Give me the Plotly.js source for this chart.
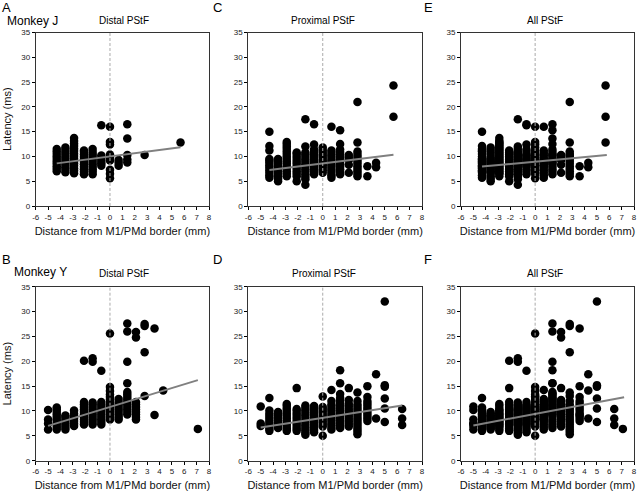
<!DOCTYPE html>
<html>
<head>
<meta charset="utf-8">
<script src="https://cdn.plot.ly/plotly-3.0.1.min.js"></script>
<style>html,body{margin:0;padding:0;background:#fff}#chart{width:638px;height:492px}</style>
</head>
<body>
<div id="chart"></div>
<script>
// ---------- Monkey J, distal PStF (panel A) ----------
const jDistalX = [-4.3, -3.6, -2.9, -2.1, -1.4, -0.7, 0, 0.7, 1.4, 2.8, 5.7];
const jDistalLat = [
  [7.0,7.5,8.0,8.5,9.0,9.5,10.0,10.5,11.0,11.5],
  [6.8,7.3,7.8,8.3,8.8,9.3,9.8,10.3,10.8,11.3,11.8],
  [6.6,7.1,7.6,8.1,8.6,9.1,9.6,10.1,10.6,11.1,11.6,12.1,12.6,13.1,13.7],
  [6.4,6.9,7.4,7.9,8.4,8.9,9.4,9.9,10.4,10.9,11.2],
  [6.4,6.9,7.4,7.9,8.4,8.9,9.4,9.9,10.4,10.9,11.5],
  [8.1,8.6,9.1,9.6,10.2,16.3],
  [5.6,6.5,7.3,9.2,9.8,10.4,12.4,12.9,16.0],
  [8.1,8.7,9.3],
  [8.8,9.4,10.3,13.6,16.5],
  [10.3],
  [12.8]
];
// ---------- Monkey J, proximal PStF (panel C) ----------
const jProxX = [-4.3, -3.6, -2.9, -2.1, -1.4, -0.7, 0, 0.7, 1.4, 2.1, 2.8, 3.6, 4.3, 5.7];
const jProxLat = [
  [5.7,6.2,6.7,7.2,7.7,8.2,8.7,9.2,9.5,11.2,12.1,15.0],
  [5.0,5.5,6.0,6.5,7.0,7.5,8.0,8.5,9.0,9.5],
  [6.0,6.5,7.0,7.5,8.0,8.5,9.0,9.5,10.0,10.5,11.0,11.5,12.0,12.5,12.9],
  [5.0,6.0,6.5,7.0,7.5,8.0,8.5,9.0,9.5,10.0,10.5,10.8],
  [4.3,5.4,5.9,6.4,6.9,7.4,7.9,8.4,8.9,9.4,9.9,10.4,10.8,12.0,17.5],
  [6.4,6.9,7.4,7.9,8.4,8.9,9.4,9.9,10.4,10.9,11.4,12.4,16.5],
  [6.7,7.2,7.7,8.2,8.7,9.2,9.7,10.2,10.7,11.2,11.8],
  [5.7,6.2,6.7,7.2,7.7,8.2,8.7,9.2,9.7,10.2,10.7,11.2,16.0],
  [6.4,6.9,7.4,7.9,8.4,8.9,9.4,9.9,10.4,10.9,11.4,12.5,15.3],
  [6.7,8.3,9.3,9.8,10.3],
  [6.0,6.5,7.0,7.5,8.0,8.5,9.0,9.5,10.0,10.5,11.0,12.8,21.0],
  [6.0,8.0],
  [7.8,8.7],
  [18.0,24.3]
];
// ---------- Monkey Y, distal PStF (panel B) ----------
const yDistalX = [-5.0, -4.3, -3.6, -2.9, -2.1, -1.4, -0.7, 0, 0.7, 1.4, 2.1, 2.8, 3.6, 4.3, 7.1];
const yDistalLat = [
  [6.3,7.5,8.3,10.2],
  [6.3,6.8,7.3,7.8,8.3,8.8,9.3,9.8,10.3,10.7],
  [6.3,6.8,7.3,7.8,8.3,8.8,9.1],
  [7.0,7.5,8.0,8.5,9.0,9.5,10.1],
  [7.3,7.8,8.3,8.8,9.3,9.8,10.3,10.8,11.3,11.8,20.1],
  [7.3,7.8,8.3,8.8,9.3,9.8,10.3,10.8,11.3,11.7,19.9,20.6],
  [7.3,7.8,8.3,8.8,9.3,9.8,10.3,10.8,11.3,11.8,18.1],
  [8.3,8.8,9.3,9.8,10.3,10.8,11.3,11.8,12.3,12.8,13.3,14.0,14.8,25.6],
  [8.3,8.8,9.3,9.8,10.3,10.8,11.3,11.8,12.4],
  [9.3,9.8,10.3,10.8,11.3,11.8,12.3,12.8,13.3,13.8,15.6,19.9,26.0,27.6],
  [8.3,8.8,9.3,9.8,10.3,10.8,11.3,11.8,24.8,25.9],
  [13.0,21.8,27.1,27.5],
  [9.2,26.6],
  [14.1],
  [6.4]
];
// ---------- Monkey Y, proximal PStF (panel D) ----------
const yProxX = [-5.0, -4.3, -3.6, -2.9, -2.1, -1.4, -0.7, 0, 0.7, 1.4, 2.1, 2.8, 3.6, 4.3, 5.0, 6.4];
const yProxLat = [
  [7.0,7.5,10.9],
  [6.0,6.5,7.0,7.5,8.0,8.5,9.0,9.5,10.1,12.6],
  [6.6,7.1,7.6,8.1,8.6,9.1,9.5,9.8],
  [6.0,6.5,7.0,7.5,8.0,8.5,9.0,9.5,10.0,10.5,11.0,11.4],
  [6.0,6.5,7.0,7.5,8.0,8.5,9.0,9.5,10.0,10.4,14.6],
  [5.2,5.6,6.1,6.6,7.1,7.6,8.1,8.6,9.1,9.6,10.1,10.6,11.1],
  [5.7,6.2,6.7,7.2,7.7,8.2,8.7,9.2,9.7,10.2,10.6,11.0],
  [5.0,6.9,7.4,7.9,8.4,8.9,9.4,9.9,10.4,10.8,12.9],
  [6.3,6.8,7.3,7.8,8.3,8.8,9.3,9.8,10.3,10.8,11.3,12.0,14.2],
  [6.6,7.1,7.6,8.1,8.6,9.1,9.6,10.1,10.6,11.1,11.6,12.1,12.6,13.4,15.6,18.2],
  [6.9,7.4,7.9,8.4,8.9,9.4,9.9,10.4,10.9,11.4,12.2,14.6],
  [5.3,5.8,6.3,6.8,7.3,7.8,8.3,8.8,9.3,9.8,10.3,10.8,11.3,12.0,13.7],
  [8.0,8.5,9.0,9.5,10.0,10.5,11.0,11.5,12.0,12.8,15.0],
  [8.5,17.4],
  [7.8,10.5,12.5,14.9,15.2,32.0],
  [7.2,8.5,10.4]
];
// ---------- regression lines ----------
const fitJDistalX = [-4.3, 5.7], fitJDistalY = [8.6, 11.85];
const fitJProxX = [-4.3, 5.7],   fitJProxY = [7.25, 10.35];
const fitJAllX = [-4.3, 5.8],    fitJAllY = [7.95, 10.3];
const fitYDistalX = [-5.0, 7.1], fitYDistalY = [7.0, 16.2];
const fitYProxX = [-5.0, 6.4],   fitYProxY = [6.7, 11.1];
const fitYAllX = [-5.0, 7.2],    fitYAllY = [7.1, 12.75];

const xTickVals = [-6,-5,-4,-3,-2,-1,0,1,2,3,4,5,6,7,8];
const xTickText = ['-6','-5','-4','-3','-2','-1','0','1','2','3','4','5','6','7','8'];
const yTickVals = [0,5,10,15,20,25,30,35];

function flatten(xs, lats) {
  const x = [], y = [];
  xs.forEach((xv, i) => lats[i].forEach(v => { x.push(xv); y.push(v); }));
  return {x, y};
}
function merge(a, b) { return {x: a.x.concat(b.x), y: a.y.concat(b.y)}; }

const jD = flatten(jDistalX, jDistalLat);
const jP = flatten(jProxX, jProxLat);
const yD = flatten(yDistalX, yDistalLat);
const yP = flatten(yProxX, yProxLat);
const jA = merge(jD, jP);
const yA = merge(yD, yP);

const panels = [
  {pts: jD, fx: fitJDistalX, fy: fitJDistalY, ax: ''},
  {pts: jP, fx: fitJProxX, fy: fitJProxY, ax: '2'},
  {pts: jA, fx: fitJAllX, fy: fitJAllY, ax: '3'},
  {pts: yD, fx: fitYDistalX, fy: fitYDistalY, ax: '4'},
  {pts: yP, fx: fitYProxX, fy: fitYProxY, ax: '5'},
  {pts: yA, fx: fitYAllX, fy: fitYAllY, ax: '6'}
];

const W = 638, H = 492;
const FONT = 'Arial, "Liberation Sans", Helvetica, sans-serif';
const xDom = [[35.7/W, 209/W], [248.3/W, 422/W], [461/W, 634/W]];
const yDomTop = [1-206/H, 1-32.5/H];
const yDomBot = [1-460.7/H, 1-286.7/H];

const data = [];
const layout = {
  width: W, height: H,
  margin: {l:0, r:0, t:0, b:0},
  paper_bgcolor: '#fff', plot_bgcolor: '#fff',
  showlegend: false,
  font: {family: FONT, color: '#000'},
  shapes: [], annotations: []
};

panels.forEach((p, i) => {
  const xa = 'x' + p.ax, ya = 'y' + p.ax;
  data.push({type: 'scatter', mode: 'markers', x: p.pts.x, y: p.pts.y, xaxis: xa, yaxis: ya,
    marker: {color: '#000', size: 8.5, line: {width: 0}}, hoverinfo: 'skip'});
  data.push({type: 'scatter', mode: 'lines', x: p.fx, y: p.fy, xaxis: xa, yaxis: ya,
    line: {color: '#808080', width: 2}, hoverinfo: 'skip'});
  const col = i % 3, row = Math.floor(i / 3);
  const xk = 'xaxis' + p.ax, yk = 'yaxis' + p.ax;
  layout[xk] = {
    domain: xDom[col], anchor: ya, range: [-6, 8], tickvals: xTickVals, ticktext: xTickText,
    ticks: 'outside', ticklen: 3, tickwidth: 1, tickcolor: '#000',
    tickfont: {size: 8, color: '#222'},
    showgrid: false, zeroline: false, showline: true, linecolor: '#333', linewidth: 1, mirror: true,
    title: {text: 'Distance from M1/PMd border (mm)', font: {size: 11, color: '#111'}, standoff: 6}
  };
  layout[yk] = {
    domain: row === 0 ? yDomTop : yDomBot, anchor: xa, range: [0, 35], tickvals: yTickVals,
    ticks: 'outside', ticklen: 3, tickwidth: 1, tickcolor: '#000',
    tickfont: {size: 8, color: '#222'},
    showgrid: false, zeroline: false, showline: true, linecolor: '#333', linewidth: 1, mirror: true,
    title: col === 0 ? {text: 'Latency (ms)', font: {size: 11, color: '#111'}, standoff: 7} : {text: ''}
  };
  layout.shapes.push({type: 'line', xref: xa, yref: ya, x0: 0, x1: 0, y0: 0, y1: 35,
    line: {color: '#aaaaaa', width: 1, dash: '3px,2px'}, layer: 'above'});
});

function ann(text, px, py, size, xanchor) {
  layout.annotations.push({text: text, x: px / W, y: 1 - py / H, xref: 'paper', yref: 'paper',
    xanchor: xanchor || 'center', yanchor: 'middle', showarrow: false,
    font: {size: size, color: '#000', family: FONT}});
}
ann('A', 0, 8, 13, 'left');
ann('C', 211, 8, 13, 'left');
ann('E', 422, 8, 13, 'left');
ann('B', 0, 259, 13, 'left');
ann('D', 211, 259, 13, 'left');
ann('F', 422, 259, 13, 'left');
ann('Monkey J', 5, 21, 12, 'left');
ann('Monkey Y', 12, 272, 12, 'left');
ann('Distal PStF', 124, 20, 10);
ann('Proximal PStF', 323, 20, 10);
ann('All PStF', 545, 20, 10);
ann('Distal PStF', 124, 273, 10);
ann('Proximal PStF', 324, 273, 10);
ann('All PStF', 545, 273, 10);

Plotly.newPlot('chart', data, layout, {staticPlot: true, displayModeBar: false});
</script>
</body>
</html>
